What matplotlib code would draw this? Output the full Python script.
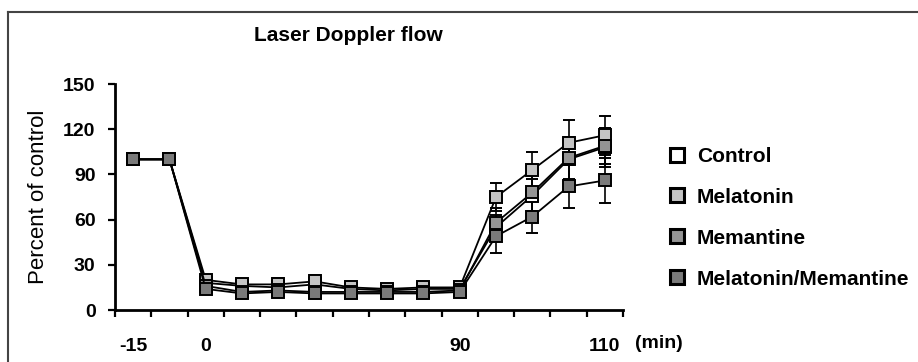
import numpy as np
import matplotlib
matplotlib.use("Agg")
from matplotlib import pyplot as plt
from matplotlib.lines import Line2D

plt.rcParams['font.family'] = ['Liberation Sans', 'DejaVu Sans']

# 14 time points on a category axis, only some are labelled
tick_labels = ["-15", "", "0", "", "", "", "", "", "", "90", "", "", "", "110"]

series_names = ["Control", "Melatonin", "Memantine", "Melatonin/Memantine"]
face_colors = ["#ffffff", "#c4c4c4", "#949494", "#7a7a7a"]

control = [100, 100, 18, 16, 15, 17, 14, 13, 14, 14, 55, 76, 100, 108]
melatonin = [100, 100, 20, 17, 17, 19, 15, 14, 15, 15, 75, 93, 111, 116]
memantine = [100, 100, 16, 12, 13, 12, 12, 12, 12, 13, 58, 78, 101, 109]
mel_mem = [100, 100, 14, 11, 12, 11, 11, 11, 11, 12, 49, 62, 82, 86]

control_err = [0, 0, 3, 3, 3, 3, 3, 3, 3, 3, 8, 11, 14, 13]
melatonin_err = [0, 0, 3, 3, 4, 4, 3, 3, 3, 3, 9, 12, 15, 13]
memantine_err = [0, 0, 3, 3, 3, 3, 3, 3, 3, 3, 10, 12, 14, 12]
mel_mem_err = [0, 0, 3, 3, 3, 3, 3, 3, 3, 3, 11, 11, 14, 15]

values = [control, melatonin, memantine, mel_mem]
errors = [control_err, melatonin_err, memantine_err, mel_mem_err]

fig = plt.figure(figsize=(9.18, 3.62), dpi=100)
ax = fig.add_axes([0.1253, 0.1436, 0.5534, 0.6243])

x = np.arange(len(tick_labels))
for vals, err, fc, name in zip(values, errors, face_colors, series_names):
    ax.errorbar(x, vals, yerr=err, fmt='s-', color='black', mfc=fc, mec='black',
                ms=8.5, mew=1.4, lw=1.3, elinewidth=1.2, capsize=4.5, capthick=1.2,
                label=name)

ax.set_xlim(-0.5, len(tick_labels) - 0.5)
ax.set_ylim(0, 150)
ax.set_yticks([0, 30, 60, 90, 120, 150])
ax.set_xticks(x)
ax.set_xticklabels(tick_labels)
ax.set_xticks(np.arange(len(tick_labels) + 1) - 0.5, minor=True)
ax.tick_params(axis='x', which='major', length=0, pad=20)
ax.tick_params(axis='x', which='minor', length=5, width=1.6, direction='out')
ax.tick_params(axis='y', length=5, width=1.6, direction='out', pad=9)
for lab in ax.get_xticklabels() + ax.get_yticklabels():
    lab.set_fontsize(14)
    lab.set_fontweight('bold')
ax.spines['top'].set_visible(False)
ax.spines['right'].set_visible(False)
ax.spines['left'].set_linewidth(2)
ax.spines['bottom'].set_linewidth(2)
ax.set_ylabel("Percent of control", fontsize=16, labelpad=10)

ax.text(13.82, -22, "(min)", fontsize=14, fontweight='bold', ha='left', va='center',
        transform=ax.transData, clip_on=False)

fig.text(0.379, 0.9006, "Laser Doppler flow", fontsize=15, fontweight='bold',
         ha='center', va='center')

handles = [Line2D([], [], ls='none', marker='s', mfc=fc, mec='black', ms=10, mew=2.2)
           for fc in face_colors]
leg = fig.legend(handles, series_names, loc='upper left', bbox_to_anchor=(0.7035, 0.646),
                 frameon=False, handletextpad=0.35, handlelength=1.2,
                 labelspacing=1.05, prop={'weight': 'bold', 'size': 15})

# figure border at top and left
fig.add_artist(Line2D([0.009, 1.0], [0.967, 0.967], color='#444444', lw=1.5))
fig.add_artist(Line2D([0.009, 0.009], [0.0, 0.967], color='#444444', lw=1.5))

fig.savefig("out.png", dpi=100)
